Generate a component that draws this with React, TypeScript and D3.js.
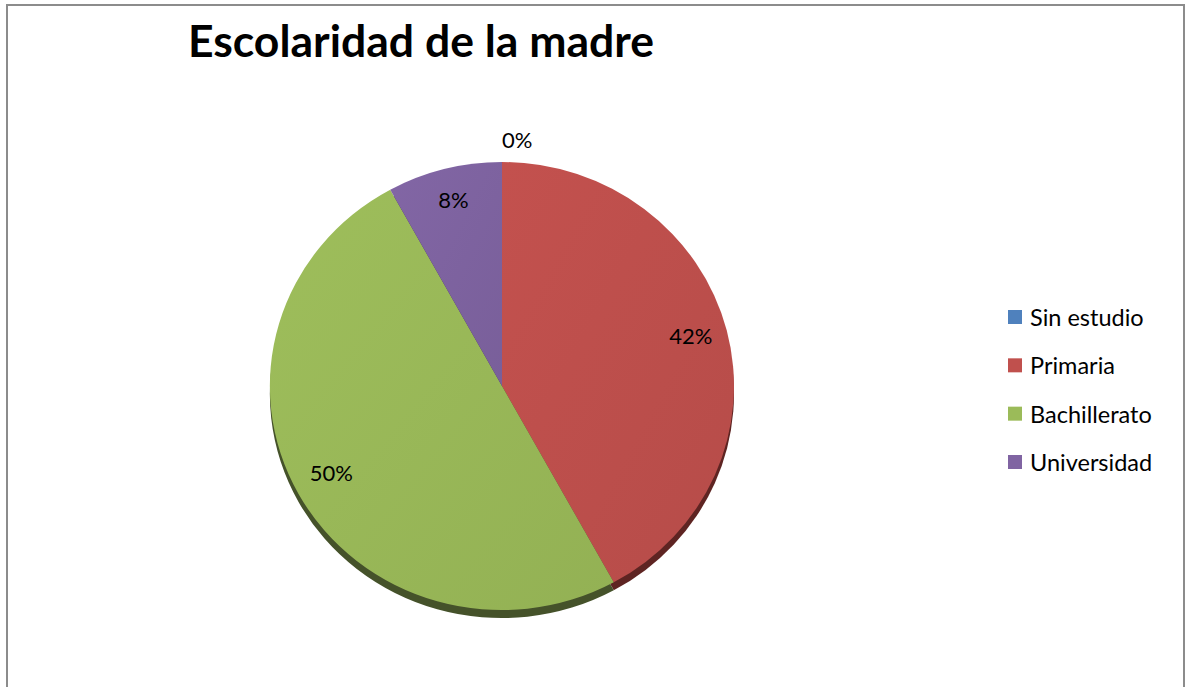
import React from "react";
import * as d3 from "d3";

const categories = ["Sin estudio", "Primaria", "Bachillerato", "Universidad"];
const values = [0, 42, 50, 8];
const colors = ["#4F81BD", "#C0504D", "#9BBB59", "#8064A2"];
const sideColors = ["#2B4A6E", "#5E2422", "#45522A", "#3F3152"];
const title = "Escolaridad de la madre";

const W = 1187;
const H = 687;
const cx = 502;
const cy = 386;
const rx = 232;
const ry = 224;
const depth = 8;
const FONT = "Lato, 'Open Sans', sans-serif";

export default function App() {
  const total = d3.sum(values);
  const pie = d3.pie<number>().sort(null).value((d) => d)(values);
  const arc = d3.arc<d3.PieArcDatum<number>>().innerRadius(0).outerRadius(rx);
  const legendY = d3.scaleLinear().domain([0, 3]).range([317, 462]);
  const fmt = (v: number) => `${Math.round((v / total) * 100)}%`;

  return (
    <svg width={W} height={H} style={{ position: "absolute", left: 0, top: 0 }} xmlns="http://www.w3.org/2000/svg">
      <defs>
        {colors.map((c, i) => (
          <linearGradient key={i} id={`g${i}`} x1="0" y1="0" x2="1" y2="1">
            <stop offset="0%" stopColor={d3.color(c)!.brighter(0.05).formatHex()} />
            <stop offset="100%" stopColor={d3.color(c)!.darker(0.15).formatHex()} />
          </linearGradient>
        ))}
      </defs>
      <rect x={0} y={0} width={W} height={H} fill="#ffffff" />
      <rect x={7} y={5} width={1177} height={H + 10} fill="none" stroke="#8c8c8c" strokeWidth={2} />
      <text x={421} y={57} textAnchor="middle" fontFamily={FONT} fontWeight="bold" fontSize={44.5} fill="#000">
        {title}
      </text>
      <g transform={`translate(${cx},${cy + depth}) scale(1,${ry / rx})`}>
        {pie.map((d, i) => (
          <path key={i} d={arc(d) || ""} fill={sideColors[i]} />
        ))}
      </g>
      <g transform={`translate(${cx},${cy}) scale(1,${ry / rx})`}>
        {pie.map((d, i) => (
          <path key={i} d={arc(d) || ""} fill={`url(#g${i})`} />
        ))}
      </g>
      {pie.map((d, i) => {
        const a = (d.startAngle + d.endAngle) / 2;
        const zero = d.value === 0;
        const f = zero ? 1.1 : 0.84;
        const x = cx + f * rx * Math.sin(a);
        const y = cy - f * ry * Math.cos(a) - (zero ? 0 : 4);
        return (
          <text key={i} x={x} y={y} textAnchor={zero ? "start" : "middle"} dominantBaseline="central"
            fontFamily={FONT} fontSize={22} fill="#000">
            {fmt(d.value)}
          </text>
        );
      })}
      {categories.map((c, i) => (
        <g key={c}>
          <rect x={1008} y={legendY(i) - 7} width={14} height={14} fill={colors[i]} />
          <text x={1030} y={legendY(i)} dominantBaseline="central" fontFamily={FONT} fontSize={23.5} fill="#000">
            {c}
          </text>
        </g>
      ))}
    </svg>
  );
}
